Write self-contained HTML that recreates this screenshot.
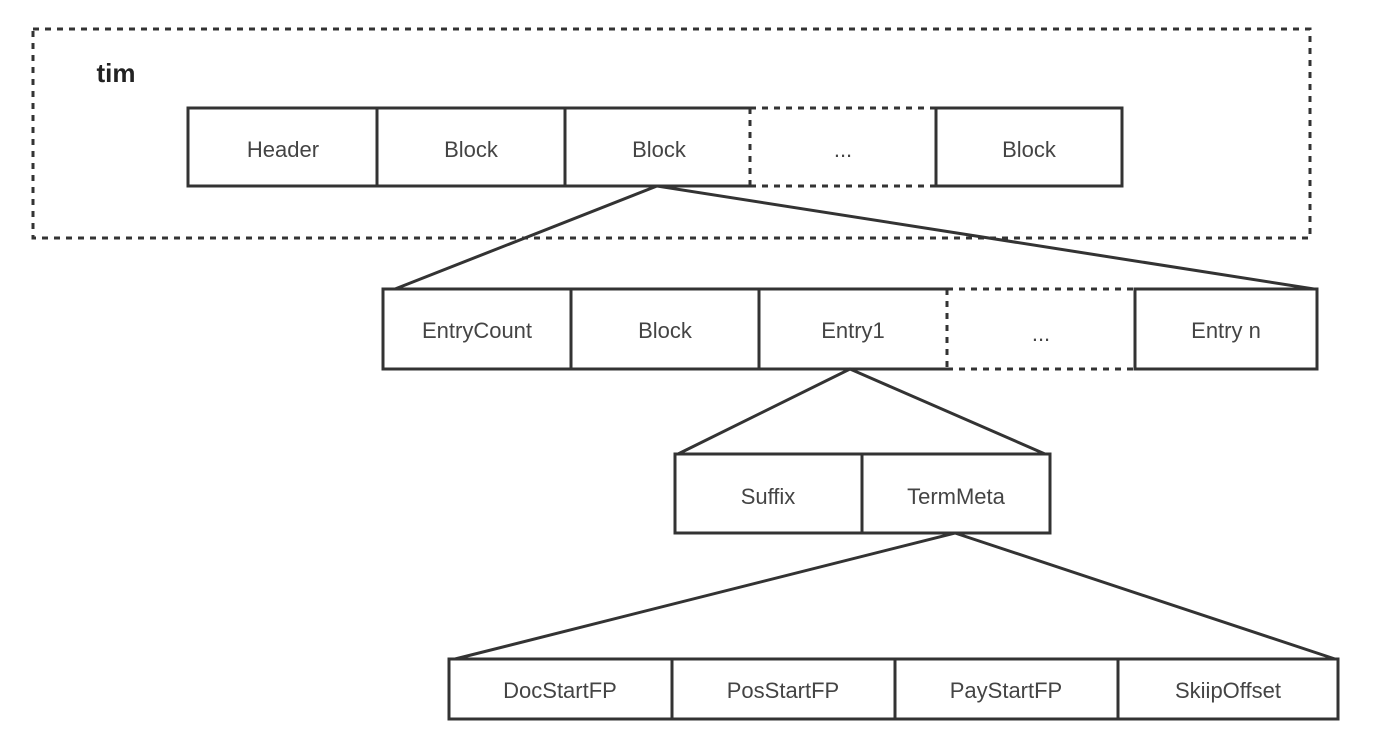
<!DOCTYPE html>
<html><head><style>
body{margin:0;background:#fff;width:1386px;height:734px;overflow:hidden}
svg text{font-family:"Liberation Sans",sans-serif;font-size:22px;fill:#444;text-anchor:middle;dominant-baseline:middle}
</style></head><body>
<svg width="1386" height="734" viewBox="0 0 1386 734">
<g fill="none" stroke="#333" stroke-width="3">
<rect x="33" y="29" width="1277" height="209" stroke-dasharray="6,6"/>
<path d="M750 108H188V186H750"/>
<path d="M377 108V186M565 108V186"/>
<rect x="936" y="108" width="186" height="78"/>
<path d="M750 108H936M750 186H936M750 108V186" stroke-dasharray="6,6"/>
<path d="M947 289H383V369H947"/>
<path d="M571 289V369M759 289V369"/>
<rect x="1135" y="289" width="182" height="80"/>
<path d="M947 289H1135M947 369H1135M947 289V369" stroke-dasharray="6,6"/>
<rect x="675" y="454" width="375" height="79"/>
<path d="M862 454V533"/>
<rect x="449" y="659" width="889" height="60"/>
<path d="M672 659V719M895 659V719M1118 659V719"/>
<path d="M395 289L657 186L1314 289"/>
<path d="M678 454L850 369L1045 454"/>
<path d="M455 659L955 533L1335 659"/>
</g>
<text x="116" y="75" style="font-size:26px;fill:#222;font-weight:bold">tim</text>
<text x="283" y="151">Header</text>
<text x="471" y="151">Block</text>
<text x="659" y="151">Block</text>
<text x="843" y="151">...</text>
<text x="1029" y="151">Block</text>
<text x="477" y="332">EntryCount</text>
<text x="665" y="332">Block</text>
<text x="853" y="332">Entry1</text>
<text x="1041" y="335">...</text>
<text x="1226" y="332">Entry n</text>
<text x="768" y="498">Suffix</text>
<text x="956" y="498">TermMeta</text>
<text x="560" y="692">DocStartFP</text>
<text x="783" y="692">PosStartFP</text>
<text x="1006" y="692">PayStartFP</text>
<text x="1228" y="692">SkiipOffset</text>
</svg>
</body></html>
